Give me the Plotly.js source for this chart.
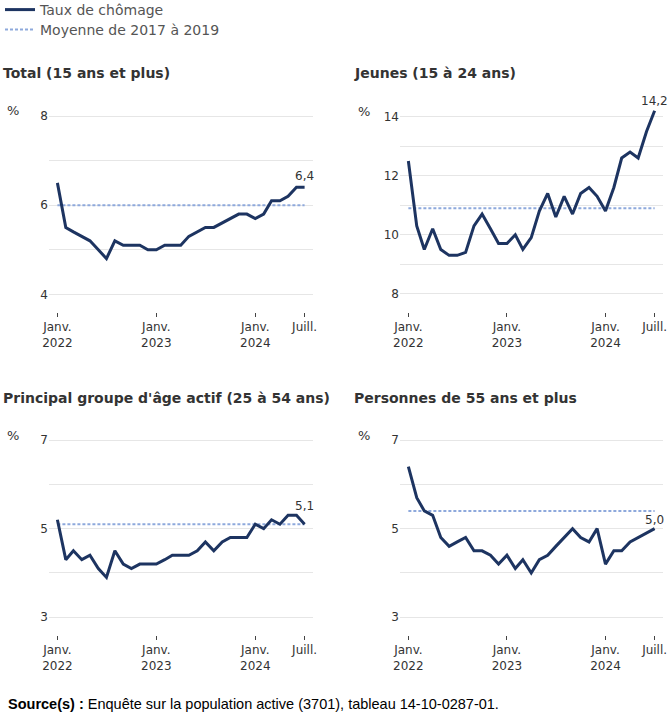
<!DOCTYPE html>
<html>
<head>
<meta charset="utf-8">
<script src="https://cdn.plot.ly/plotly-3.0.1.min.js"></script>
<style>html,body{margin:0;padding:0;background:#fff;}#chart{width:670px;height:717px;}</style>
</head>
<body>
<div id="chart"></div>
<script>
const months = ['2022-01','2022-02','2022-03','2022-04','2022-05','2022-06','2022-07','2022-08','2022-09','2022-10','2022-11','2022-12',
  '2023-01','2023-02','2023-03','2023-04','2023-05','2023-06','2023-07','2023-08','2023-09','2023-10','2023-11','2023-12',
  '2024-01','2024-02','2024-03','2024-04','2024-05','2024-06','2024-07'];

const panelTitles = ['Total (15 ans et plus)', 'Jeunes (15 à 24 ans)', "Principal groupe d'âge actif (25 à 54 ans)", 'Personnes de 55 ans et plus'];

const total  = [6.5,5.5,5.4,5.3,5.2,5.0,4.8,5.2,5.1,5.1,5.1,5.0,5.0,5.1,5.1,5.1,5.3,5.4,5.5,5.5,5.6,5.7,5.8,5.8,5.7,5.8,6.1,6.1,6.2,6.4,6.4];
const youth  = [12.5,10.3,9.5,10.2,9.5,9.3,9.3,9.4,10.3,10.7,10.2,9.7,9.7,10.0,9.5,9.9,10.8,11.4,10.6,11.3,10.7,11.4,11.6,11.3,10.8,11.6,12.6,12.8,12.6,13.5,14.2];
const core   = [5.2,4.3,4.5,4.3,4.4,4.1,3.9,4.5,4.2,4.1,4.2,4.2,4.2,4.3,4.4,4.4,4.4,4.5,4.7,4.5,4.7,4.8,4.8,4.8,5.1,5.0,5.2,5.1,5.3,5.3,5.1];
const older  = [6.4,5.7,5.4,5.3,4.8,4.6,4.7,4.8,4.5,4.5,4.4,4.2,4.4,4.1,4.3,4.0,4.3,4.4,4.6,4.8,5.0,4.8,4.7,5.0,4.2,4.5,4.5,4.7,4.8,4.9,5.0];
const averages = [6.0, 10.9, 5.1, 5.4];

const xTickVals = ['2022-01-01','2023-01-01','2024-01-01','2024-07-01'];
const xTickText = ['Janv.<br>2022','Janv.<br>2023','Janv.<br>2024','Juill.'];
const yTickVals = [[4,5,6,7,8],[8,9,10,11,12,13,14],[3,4,5,6,7],[3,4,5,6,7]];
const yTickText = [['4','','6','','8'],['8','','10','','12','','14'],['3','','5','','7'],['3','','5','','7']];
const legendNames = ['Taux de chômage', 'Moyenne de 2017 à 2019'];

const W = 670, H = 717;
const series = [total, youth, core, older];
const lineColor = '#1d3461';
const avgColor = '#8ea9dc';

// layout geometry in pixels
const colX = [[49, 313], [400, 663]];
const rowY = [[100, 312], [423, 635]];
const yRanges = [[3.603, 8.359], [7.38, 14.566], [2.60, 7.384], [2.60, 7.384]];
const labelShift = [11, 10, 18, 9];
const titlePos = [[1, 73], [352, 73], [1, 398], [352, 398]];
const pctPos = [[13, 110], [364, 111], [13, 435], [364, 435]];

function fmt(v){ return v.toFixed(1).replace('.', ','); }

const data = [];
const legendBase = {xanchor: 'left', yanchor: 'top', font: {size: 14, color: '#555'}, bgcolor: 'rgba(0,0,0,0)'};
const layout = {
  width: W, height: H,
  margin: {l:0, r:0, t:0, b:0, autoexpand: false},
  paper_bgcolor: '#fff', plot_bgcolor: '#fff',
  font: {family: 'DejaVu Sans, Verdana, sans-serif', size: 12, color: '#333'},
  showlegend: true,
  legend: Object.assign({x: 0, y: 1 + 6 / H}, legendBase),
  legend2: Object.assign({x: 0, y: 1 - 14 / H}, legendBase),
  annotations: []
};

series.forEach((vals, i) => {
  const ax = i === 0 ? '' : String(i + 1);
  const col = i % 2, row = Math.floor(i / 2);
  data.push({
    x: [months[0], months[months.length - 1]], y: [averages[i], averages[i]],
    xaxis: 'x' + ax, yaxis: 'y' + ax, type: 'scatter', mode: 'lines',
    line: {color: avgColor, width: 2, dash: '3px,2px'},
    name: legendNames[1], legend: 'legend2', showlegend: i === 0, hoverinfo: 'skip'
  });
  data.push({
    x: months, y: vals, xaxis: 'x' + ax, yaxis: 'y' + ax, type: 'scatter', mode: 'lines',
    line: {color: lineColor, width: 3}, name: legendNames[0], legend: 'legend', showlegend: i === 0,
    cliponaxis: false
  });
  layout['xaxis' + ax] = {
    domain: [colX[col][0] / W, colX[col][1] / W], anchor: 'y' + ax, type: 'date',
    range: ['2021-12-01', '2024-08-01'], tickmode: 'array', tickvals: xTickVals, ticktext: xTickText,
    ticks: 'outside', ticklen: 4, tickwidth: 1, tickcolor: '#444', showgrid: false, zeroline: false, showline: false,
    tickfont: {size: 12, color: '#333'}, fixedrange: true, automargin: false
  };
  layout['yaxis' + ax] = {
    domain: [1 - rowY[row][1] / H, 1 - rowY[row][0] / H], anchor: 'x' + ax,
    range: yRanges[i], tickmode: 'array', tickvals: yTickVals[i], ticktext: yTickText[i],
    showgrid: true, gridcolor: '#e6e6e6', gridwidth: 1, zeroline: false, showline: false, ticks: '',
    tickfont: {size: 12, color: '#333'}, fixedrange: true, automargin: false
  };
  layout.annotations.push({
    xref: 'paper', yref: 'paper', x: titlePos[i][0] / W, y: 1 - titlePos[i][1] / H,
    xanchor: 'left', yanchor: 'middle', showarrow: false, text: '<b>' + panelTitles[i] + '</b>',
    font: {size: 14, color: '#333'}
  });
  layout.annotations.push({
    xref: 'paper', yref: 'paper', x: pctPos[i][0] / W, y: 1 - pctPos[i][1] / H,
    xanchor: 'center', yanchor: 'middle', showarrow: false, text: '%', font: {size: 13, color: '#333'}
  });
  const last = vals.length - 1;
  layout.annotations.push({
    xref: 'x' + ax, yref: 'y' + ax, x: months[last], y: vals[last],
    xanchor: 'center', yanchor: 'middle', yshift: labelShift[i], showarrow: false,
    text: fmt(vals[last]), font: {size: 12, color: '#333'}
  });
});

layout.annotations.push({
  xref: 'paper', yref: 'paper', x: 6 / W, y: 1 - 704 / H, xanchor: 'left', yanchor: 'middle', showarrow: false,
  text: '<b>Source(s) :</b> Enquête sur la population active (3701), tableau 14-10-0287-01.',
  font: {family: 'Liberation Sans, Arial, sans-serif', size: 14.5, color: '#000'}
});

Plotly.newPlot('chart', data, layout, {displayModeBar: false, staticPlot: true});
</script>
</body>
</html>
